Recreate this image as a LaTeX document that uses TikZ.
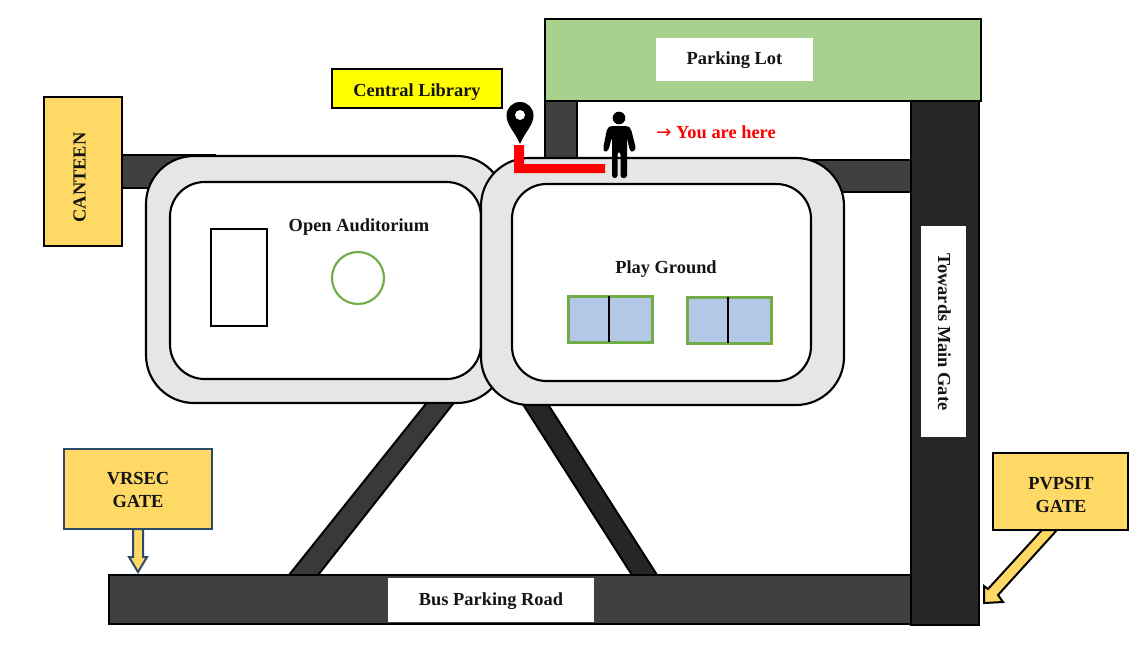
\documentclass[tikz,border=0pt]{standalone}
\usepackage{fontspec}
\setmainfont{Liberation Serif}
\newfontfamily\symfont{DejaVu Sans}
\definecolor{roadA}{HTML}{404040}
\definecolor{roadB}{HTML}{262626}
\definecolor{roadC}{HTML}{3A3838}
\definecolor{parkgreen}{HTML}{A9D18E}
\definecolor{gategold}{HTML}{FFD966}
\definecolor{gateblue}{HTML}{2F4A68}
\definecolor{leafgreen}{HTML}{70AD47}
\definecolor{courtblue}{HTML}{B4C7E7}
\definecolor{ringgrey}{HTML}{E7E6E6}
\definecolor{herered}{HTML}{FF0000}
\definecolor{libyellow}{HTML}{FFFF00}
\tikzset{
  lbl/.style={font=\fontsize{13.8}{17}\selectfont\bfseries,text=black!92,align=center},
  road/.style={draw=black,line width=2.1pt,fill=roadA},
  roadd/.style={draw=black,line width=2.1pt,fill=roadB},
  ringouter/.style={draw=black,line width=1.6pt,fill=ringgrey,rounded corners=36pt},
  ringinner/.style={draw=black,line width=1.6pt,fill=white,rounded corners=26pt},
  whitelabel/.style={fill=white,draw=none},
  gatebox/.style={fill=gategold,draw=black,line width=2.1pt},
  court/.style={fill=courtblue,draw=leafgreen,line width=2.25pt},
}
% box with corners given in reference pixels
\newcommand{\bx}[7]{\node[inner sep=0pt,outer sep=0pt,#1,minimum width={(#5-#3)*0.75pt},minimum height={(#6-#4)*0.75pt}] (#2) at ({(#3+#5)/2},{(#4+#6)/2}) {#7};}
\begin{document}
\begin{tikzpicture}[x=0.75pt,y=-0.75pt]
\useasboundingbox (0,0) rectangle (1142,668);
\fill[white] (0,0) rectangle (1142,668);
% roads under the rings
\bx{road}{canteenroad}{120}{155}{215}{188}{}
\bx{road}{northroad}{545}{100}{577}{170}{}
\bx{road}{eastlink}{800}{160}{911}{192}{}
\draw[road,fill=roadC,line width=1.5pt] (433,395)--(460,395)--(318,575)--(289,575)--cycle;
\draw[roadd,line width=1.5pt] (517,395)--(542,395)--(657,575)--(632,575)--cycle;
% parking
\bx{draw=black,line width=2.1pt,fill=parkgreen}{parking}{545}{19}{981}{101}{}
\bx{whitelabel}{parkingbox}{656}{38}{813}{81}{}
\node[lbl] (parkinglabel) at (734.5,60.5) {Parking Lot};
% rings
\bx{ringouter}{leftouter}{146}{156}{505}{403}{}
\bx{ringinner}{leftinner}{170}{182}{481}{379}{}
\bx{ringouter}{rightouter}{481}{158}{844}{405}{}
\bx{ringinner}{rightinner}{512}{184}{811}{381}{}
% main roads
\bx{road}{busroad}{109}{575}{911}{624}{}
\bx{roadd}{eastroad}{911}{101}{979}{625}{}
\bx{whitelabel}{busbox}{388}{578}{594}{622}{}
\node[lbl] (buslabel) at (491,601) {Bus Parking Road};
\bx{whitelabel}{towardsbox}{921}{226}{966}{437}{}
\node[lbl,rotate=-90] (towards) at (944.5,332) {Towards Main Gate};
% canteen
\bx{gatebox}{canteen}{44}{97}{122}{246}{}
\node[lbl,rotate=90] (canteenlabel) at (79.5,177.5) {CANTEEN};
% library
\bx{gatebox,fill=libyellow}{library}{332}{69}{502}{108}{}
\node[lbl] (librarylabel) at (417,92.5) {Central Library};
% auditorium
\node[lbl] (auditorium) at (359,227) {Open Auditorium};
\bx{draw=black,line width=2.1pt,fill=white}{stage}{211}{229}{267}{326}{}
\node[circle,draw=leafgreen,line width=1.6pt,fill=white,minimum size=39pt,inner sep=0pt] (fountain) at (358,278) {};
% play ground
\node[lbl] (playground) at (666,269) {Play Ground};
\bx{court}{courtone}{568}{296}{652}{342}{}
\draw[black,line width=1.9pt] (609,296) -- (609,342);
\bx{court}{courttwo}{687}{297}{771}{343}{}
\draw[black,line width=1.9pt] (728,297) -- (728,343);
% gates
\bx{gatebox,draw=gateblue}{vrsec}{64}{449}{212}{529}{}
\node[lbl] (vrseclabel) at (138,490) {VRSEC\\GATE};
\draw[fill=gategold,draw=gateblue,line width=1.5pt,line join=miter] (133,529)--(143,529)--(143,557)--(147,557)--(138,572)--(129,557)--(133,557)--cycle;
\draw[fill=gategold,draw=black,line width=1.5pt,line join=miter] (1042,530)--(1057,530)--(998,595)--(1003,602)--(984,603)--(984,586)--(988,589)--cycle;
\bx{gatebox}{pvpsit}{993}{453}{1128}{530}{}
\node[lbl] (pvpsitlabel) at (1061,495) {PVPSIT\\GATE};
% route
\fill[herered] (514,145) -- (524,145) -- (524,164) -- (605,164) -- (605,173) -- (514,173) -- cycle;
% pin
\fill[black] (520,144) .. controls (515,132) and (506.5,125) .. (506.5,115.5)
  .. controls (506.5,108) and (512.5,102) .. (520,102)
  .. controls (527.5,102) and (533.5,108) .. (533.5,115.5)
  .. controls (533.5,125) and (525,132) .. (520,144) -- cycle;
\node[circle,fill=white,minimum size=7.5pt,inner sep=0pt] (pinhole) at (520,115) {};
% person
\node[circle,fill=black,minimum size=9.5pt,inner sep=0pt] (head) at (619,118) {};
\fill[black,rounded corners=2pt] (610,126)--(628,126)--(631,129)--(636,149)--(632.5,152.5)--(629.5,150)--(627,137)--(627,178)--(620.5,178)--(620.5,152)--(617.5,152)--(617.5,178)--(612,178)--(612,137)--(608.5,150)--(605,152.5)--(603,149)--(607,129)--cycle;
\node[lbl,text=herered,anchor=west] (here) at (651.5,132.5) {{\symfont\mdseries →} You are here};
\end{tikzpicture}
\end{document}
